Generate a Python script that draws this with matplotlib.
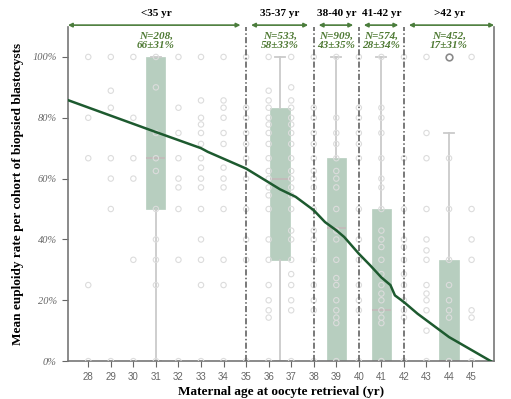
import matplotlib
matplotlib.use("Agg")
import matplotlib.pyplot as plt

# scatter of per-patient euploidy rates (%), one list per age
ages = [28, 29, 30, 31, 32, 33, 34, 35, 36, 37, 38, 39, 40, 41, 42, 43, 44, 45]
dots_28 = [100, 80, 66.7, 25, 0]
dots_29 = [100, 88.9, 83.3, 66.7, 60, 50, 0]
dots_30 = [100, 80, 66.7, 60, 33.3, 0]
dots_31 = [100, 90, 75, 66.7, 62.5, 50, 40, 33.3, 25, 0]
dots_32 = [100, 83.3, 75, 66.7, 60, 57.1, 50, 33.3, 0]
dots_33 = [100, 85.7, 80, 77.8, 75, 71.4, 66.7, 63.6, 60, 57.1, 50, 40, 33.3, 25, 0]
dots_34 = [100, 85.7, 83.3, 80, 75, 71.4, 63.6, 60, 57.1, 50, 33.3, 25, 0]
dots_35 = [100, 83.3, 80, 75, 71.4, 66.7, 60, 50, 40, 33.3, 0]
dots_36 = [100, 88.9, 85.7, 83.3, 80, 77.8, 75, 71.4, 66.7, 62.5, 60, 57.1, 54.5,
           50, 40, 33.3, 25, 20, 16.7, 14.3, 0]
dots_37 = [100, 90, 85.7, 83.3, 80, 77.8, 75, 71.4, 66.7, 62.5, 60, 57.1, 54.5,
           50, 42.9, 40, 33.3, 28.6, 25, 20, 16.7, 0]
dots_38 = [100, 83.3, 80, 75, 71.4, 66.7, 62.5, 60, 57.1, 50, 42.9, 40, 33.3, 25,
           20, 16.7, 0]
dots_39 = [100, 80, 75, 71.4, 66.7, 62.5, 60, 57.1, 50, 42.9, 40, 33.3, 27.3, 25,
           20, 16.7, 14.3, 12.5, 0]
dots_40 = [100, 83.3, 80, 75, 71.4, 66.7, 50, 40, 33.3, 25, 20, 16.7, 0]
dots_41 = [100, 83.3, 80, 75, 66.7, 60, 57.1, 50, 42.9, 40, 37.5, 33.3, 28.6, 25,
           22.2, 20, 16.7, 14.3, 12.5, 0]
dots_42 = [100, 66.7, 50, 40, 37.5, 33.3, 28.6, 25, 20, 16.7, 14.3, 0]
dots_43 = [100, 75, 66.7, 50, 40, 36.4, 33.3, 25, 22.2, 20, 16.7, 10, 0]
dots_44 = [66.7, 50, 33.3, 25, 20, 16.7, 14.3, 0]
dots_45 = [100, 50, 40, 33.3, 16.7, 14.3, 0]
all_dots = [dots_28, dots_29, dots_30, dots_31, dots_32, dots_33, dots_34, dots_35,
            dots_36, dots_37, dots_38, dots_39, dots_40, dots_41, dots_42, dots_43,
            dots_44, dots_45]

# box plots per age group
box_pos = [31, 36.5, 39, 41, 44]
box_q1 = [50, 33.3, 0, 0, 0]
box_med = [66.7, 60, 43.9, 16.7, 0]
box_q3 = [100, 83.3, 66.7, 50, 33.3]
box_lo = [0, 0, 0, 0, 0]
box_hi = [100, 100, 100, 100, 75]
box_fliers = [[], [], [], [], [100]]

# fitted trend line
trend_x = [27.1, 31, 33, 33.3, 35, 36.5, 37.2, 38, 38.5, 39, 39.35, 40, 40.5, 41,
           41.4, 41.6, 42, 42.6, 43, 44, 45.85]
trend_y = [85.8, 75.3, 70, 68.8, 63.3, 56.5, 54, 49.6, 45.7, 43, 40.8, 35.3, 31.5,
           27.5, 25, 21.6, 19.4, 15.6, 13.4, 7.9, 0]

# age groups
group_labels = ['<35 yr', '35-37 yr', '38-40 yr', '41-42 yr', '>42 yr']
group_left = [27.1, 35, 38, 40, 42]
group_right = [35, 38, 40, 42, 46.0]
group_n = ['N=208,\n66±31%', 'N=533,\n58±33%', 'N=909,\n43±35%', 'N=574,\n28±34%',
           'N=452,\n17±31%']
dividers = [35, 38, 40, 42]

serif = 'Liberation Serif'
green_txt = '#4f7a34'
green_arrow = '#4b7d3c'

fig = plt.figure(figsize=(5.11, 3.99), dpi=100)
ax = fig.add_axes([0.133, 0.095, 0.834, 0.837])

for a, vals in zip(ages, all_dots):
    ax.scatter([a] * len(vals), vals, s=15, facecolors='none', edgecolors='#dcdcdc',
               linewidths=0.8, zorder=3)

stats = []
for i in range(len(box_pos)):
    stats.append(dict(med=box_med[i], q1=box_q1[i], q3=box_q3[i],
                      whislo=box_lo[i], whishi=box_hi[i], fliers=box_fliers[i]))
ax.bxp(stats, positions=box_pos, widths=0.85, patch_artist=True, showfliers=True,
       capwidths=0.45, manage_ticks=False,
       boxprops=dict(facecolor='#b7cebf', edgecolor='#b7cebf', linewidth=0.5),
       medianprops=dict(color='#c4b9b9', linewidth=1.2),
       whiskerprops=dict(color='#cacaca', linewidth=1.3),
       capprops=dict(color='#cacaca', linewidth=1.3),
       flierprops=dict(marker='o', markersize=4.8, markerfacecolor='none',
                       markeredgecolor='#8a8a8a', markeredgewidth=1.2))

for d in dividers:
    ax.axvline(d, color='#555555', linewidth=1.1, linestyle=(0, (4, 1.5, 1, 1.5)),
               zorder=4)

ax.plot(trend_x, trend_y, color='#1d5a2f', linewidth=1.8, zorder=5)

ax.set_xlim(27.1, 46.0)
ax.set_ylim(0, 109.8)
ax.set_xticks(ages)
ax.set_xticklabels([str(a) for a in ages], family='Liberation Sans', fontsize=7,
                   color='#666666')
ax.set_yticks([0, 20, 40, 60, 80, 100])
ax.set_yticklabels(['0%', '20%', '40%', '60%', '80%', '100%'], family=serif,
                   style='italic', fontsize=7.5, color='#666666')
ax.tick_params(length=4, width=0.8, color='#666666', pad=4)
ax.spines['top'].set_visible(False)
for s in ['left', 'bottom', 'right']:
    ax.spines[s].set_color('#777777')
    ax.spines[s].set_linewidth(1.2)

ax.set_ylabel('Mean euploidy rate per cohort of biopsied blastocysts', family=serif,
              fontweight='bold', fontsize=9.5, labelpad=6)
ax.set_xlabel('Maternal age at oocyte retrieval (yr)', family=serif,
              fontweight='bold', fontsize=9.5, labelpad=3)

trans = ax.get_xaxis_transform()
for i in range(len(group_labels)):
    left = group_left[i] + (0.0 if i == 0 else 0.22)
    right = group_right[i] - (0.25 if i < 4 else 0.0)
    ax.annotate('', xy=(left, 1.006), xytext=(right, 1.006), xycoords=trans,
                textcoords=trans,
                arrowprops=dict(arrowstyle='<|-|>', color=green_arrow, lw=1.2,
                                mutation_scale=6, shrinkA=0, shrinkB=0),
                annotation_clip=False)
    ax.text(box_pos[i], 1.04, group_labels[i], transform=trans, ha='center',
            va='center', family=serif, fontweight='bold', fontsize=8)
    ax.text(box_pos[i], 105.2, group_n[i], ha='center', va='center', family=serif,
            style='italic', fontweight='bold', fontsize=8, color=green_txt,
            linespacing=1.05, zorder=6)

fig.savefig('out.png', dpi=100)
